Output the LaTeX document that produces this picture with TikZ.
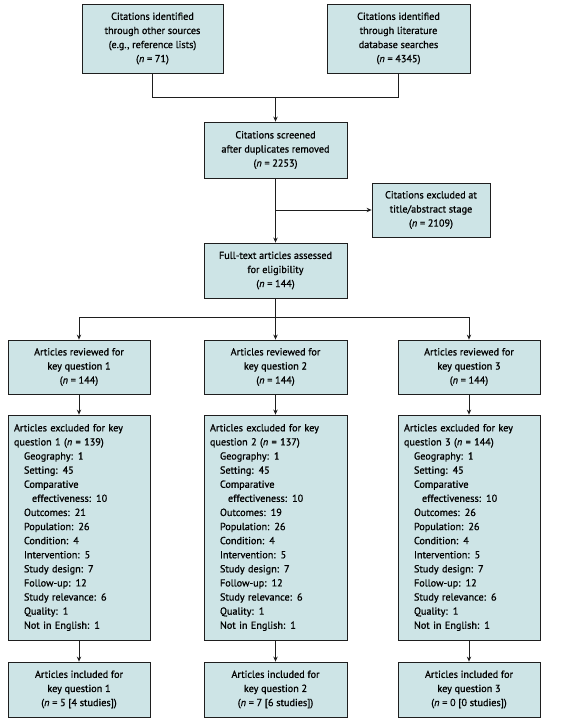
\documentclass[tikz,border=0pt]{standalone}
\usepackage{fontspec}
\newfontfamily\bx{PT Sans}[FakeBold=0.9]
\usetikzlibrary{arrows.meta}
\definecolor{boxfill}{RGB}{205,228,230}
\definecolor{edge}{RGB}{30,30,30}
\tikzset{
  box/.style={draw=edge, fill=boxfill, line width=0.8pt, align=center, inner sep=0pt,
    font=\bx\fontsize{10.2}{14.1}\selectfont},
  wide/.style={minimum width=143pt},
  col/.style={minimum width=142pt},
  exbox/.style={box, align=left, text width=130pt, inner xsep=6pt, minimum height=225pt},
  link/.style={draw=edge, line width=0.8pt},
  arr/.style={link, -{Stealth[length=5pt,width=4.4pt,inset=1.6pt]}}
}
\begin{document}
\begin{tikzpicture}[x=1pt,y=-1pt]
\useasboundingbox (0,0) rectangle (561,723);
\fill[white] (0,0) rectangle (561,723);
\node[box, minimum width=141pt, minimum height=69pt] (a) at (152.5,38.5)
  {Citations identified\\through other sources\\(e.g., reference lists)\\(\textit{n} = 71)};
\node[box, minimum width=143pt, minimum height=69pt] (b) at (398.5,38.5)
  {Citations identified\\through literature\\database searches\\(\textit{n} = 4345)};
\node[box, wide, minimum height=56pt] (c) at (275.5,150)
  {Citations screened\\after duplicates removed\\(\textit{n} = 2253)};
\node[box, minimum width=118pt, minimum height=54pt] (d) at (431,210)
  {Citations excluded at\\title/abstract stage\\(\textit{n} = 2109)};
\node[box, wide, minimum height=55pt] (e) at (275.5,270.5)
  {Full-text articles assessed\\for eligibility\\(\textit{n} = 144)};
\node[box, col, minimum height=54pt] (r1) at (79,367)
  {Articles reviewed for\\key question 1\\(\textit{n} = 144)};
\node[box, wide, minimum height=54pt] (r2) at (275.5,367)
  {Articles reviewed for\\key question 2\\(\textit{n} = 144)};
\node[box, col, minimum height=54pt] (r3) at (469,367)
  {Articles reviewed for\\key question 3\\(\textit{n} = 144)};
\node[exbox] (x1) at (79,527.5)
  {Articles excluded for key\\question 1 (\textit{n} = 139)\\
   \hspace*{10pt}Geography: 1\\\hspace*{10pt}Setting: 45\\\hspace*{10pt}Comparative\\
   \hspace*{18pt}effectiveness: 10\\\hspace*{10pt}Outcomes: 21\\\hspace*{10pt}Population: 26\\
   \hspace*{10pt}Condition: 4\\\hspace*{10pt}Intervention: 5\\\hspace*{10pt}Study design: 7\\
   \hspace*{10pt}Follow-up: 12\\\hspace*{10pt}Study relevance: 6\\\hspace*{10pt}Quality: 1\\
   \hspace*{10pt}Not in English: 1};
\node[exbox, text width=131pt] (x2) at (275.5,527.5)
  {Articles excluded for key\\question 2 (\textit{n} = 137)\\
   \hspace*{10pt}Geography: 1\\\hspace*{10pt}Setting: 45\\\hspace*{10pt}Comparative\\
   \hspace*{18pt}effectiveness: 10\\\hspace*{10pt}Outcomes: 19\\\hspace*{10pt}Population: 26\\
   \hspace*{10pt}Condition: 4\\\hspace*{10pt}Intervention: 5\\\hspace*{10pt}Study design: 7\\
   \hspace*{10pt}Follow-up: 12\\\hspace*{10pt}Study relevance: 6\\\hspace*{10pt}Quality: 1\\
   \hspace*{10pt}Not in English: 1};
\node[exbox] (x3) at (469,527.5)
  {Articles excluded for key\\question 3 (\textit{n} = 144)\\
   \hspace*{10pt}Geography: 1\\\hspace*{10pt}Setting: 45\\\hspace*{10pt}Comparative\\
   \hspace*{18pt}effectiveness: 10\\\hspace*{10pt}Outcomes: 26\\\hspace*{10pt}Population: 26\\
   \hspace*{10pt}Condition: 4\\\hspace*{10pt}Intervention: 5\\\hspace*{10pt}Study design: 7\\
   \hspace*{10pt}Follow-up: 12\\\hspace*{10pt}Study relevance: 6\\\hspace*{10pt}Quality: 1\\
   \hspace*{10pt}Not in English: 1};
\node[box, col, minimum height=55pt] (i1) at (79,689.5)
  {Articles included for\\key question 1\\(\textit{n} = 5 [4 studies])};
\node[box, wide, minimum height=55pt] (i2) at (275.5,689.5)
  {Articles included for\\key question 2\\(\textit{n} = 7 [6 studies])};
\node[box, col, minimum height=55pt] (i3) at (469,689.5)
  {Articles included for\\key question 3\\(\textit{n} = 0 [0 studies])};
% connectors
\coordinate (m) at (275.5,97);
\draw[link] (a.south) |- (m);
\draw[link] (b.south) |- (m);
\draw[arr] (m) -- (c.north);
\draw[arr] (c.south) -- (e.north);
\coordinate (dj) at (c.south |- d.west);
\draw[arr] (dj) -- (d.west);
\coordinate (br) at (275.5,317);
\draw[link] (e.south) -- (br);
\draw[arr] (br) -| (r1.north);
\draw[arr] (br) -- (r2.north);
\draw[arr] (br) -| (r3.north);
\draw[arr] (r1.south) -- (x1.north);
\draw[arr] (r2.south) -- (x2.north);
\draw[arr] (r3.south) -- (x3.north);
\draw[arr] (x1.south) -- (i1.north);
\draw[arr] (x2.south) -- (i2.north);
\draw[arr] (x3.south) -- (i3.north);
\end{tikzpicture}
\end{document}
